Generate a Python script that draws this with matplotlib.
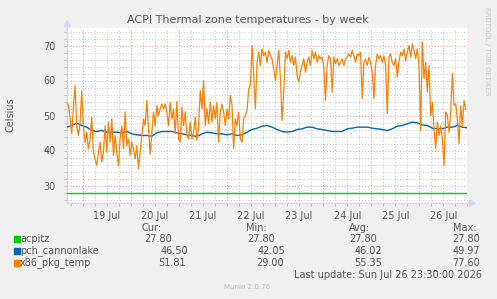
import matplotlib
matplotlib.use("Agg")
import matplotlib.pyplot as plt
import matplotlib.dates as mdates
from matplotlib.ticker import FuncFormatter, MultipleLocator, NullFormatter
from matplotlib.patches import Rectangle
from datetime import datetime, timedelta

# ---------------- data ----------------
start = datetime(2026, 7, 18, 16, 0)
end = datetime(2026, 7, 27, 0, 0)

pkg_step_min = 50     # sample spacing for x86_pkg_temp
pch_step_min = 150    # sample spacing for pch_cannonlake

acpitz = 27.8

pch_cannonlake = [
    46.67, 47.14, 47.81, 47.14, 46.67, 45.71, 45.43, 45.71, 45.24, 45.24,
    45.24, 45.05, 45.43, 44.76, 44.48, 44.29, 44.29, 44.10, 45.05, 45.43,
    45.43, 45.43, 45.05, 44.76, 44.48, 44.29, 44.00, 44.76, 45.24, 45.05,
    44.76, 44.76, 44.48, 44.76, 44.29, 44.48, 45.24, 46.00, 46.38, 46.95,
    47.14, 46.67, 46.00, 45.43, 45.24, 45.43, 46.00, 46.19, 46.67, 46.67,
    46.19, 46.00, 45.71, 45.43, 45.43, 45.43, 46.19, 46.38, 46.67, 46.67,
    46.67, 46.38, 46.19, 46.00, 45.71, 46.19, 46.95, 47.14, 47.62, 48.10,
    47.90, 47.33, 47.14, 46.38, 46.19, 46.19, 46.67, 46.67, 47.14, 46.67,
    46.50,
]

x86_pkg_temp = [
    # 18 - 20 Jul
    53.8, 53.0, 49.5, 44.8, 52.0, 58.6, 47.0, 44.3, 48.0, 57.1,
    47.1, 42.4, 45.2, 40.5, 43.3, 49.5, 39.5, 37.6, 35.7, 39.5,
    42.4, 36.7, 39.5, 47.1, 39.5, 48.1, 42.4, 49.0, 38.6, 44.3,
    39.5, 35.7, 43.3, 47.1, 40.5, 51.0, 41.4, 43.3, 38.6, 42.4,
    40.5, 37.6, 41.4, 34.8, 39.5, 44.3, 49.0, 47.1, 54.3, 46.2,
    39.0, 45.2, 51.0, 47.1, 52.9, 50.0, 51.9, 53.3, 51.9,
    # 20 - 22 Jul
    53.3, 51.0, 47.1, 53.8, 49.0, 51.9, 44.8, 54.0, 43.3, 42.4,
    52.4, 47.1, 51.0, 44.3, 43.3, 48.1, 43.3, 45.2, 49.5, 42.9,
    47.1, 57.1, 51.9, 60.0, 47.1, 51.9, 47.6, 53.8, 48.1, 52.9,
    49.0, 53.8, 42.4, 51.0, 53.3, 51.0, 47.1, 51.9, 49.0, 55.7,
    52.9, 40.5, 49.0, 47.1, 51.0, 43.3, 42.4, 49.0, 50.0, 51.4,
    57.6, 58.6, 70.0, 61.4, 51.9, 65.2, 68.1, 64.3, 69.0, 67.1,
    # 22 - 24 Jul
    68.1, 65.2, 68.6, 67.1, 66.2, 63.3, 60.0, 64.3, 68.6, 60.5,
    48.6, 56.7, 68.1, 66.2, 68.6, 65.2, 67.1, 64.3, 66.7, 61.4,
    59.5, 62.4, 64.3, 66.2, 62.4, 65.2, 66.7, 64.3, 68.6, 66.2,
    68.1, 65.2, 67.1, 66.2, 66.7, 63.8, 54.3, 64.3, 67.1, 66.2,
    56.7, 66.7, 64.8, 66.2, 64.3, 65.2, 66.2, 64.3, 66.2, 66.7,
    67.6, 66.7, 68.6, 67.1, 65.2, 67.6, 67.1, 68.1, 54.8, 65.2,
    # 24 - 27 Jul
    66.2, 64.3, 66.7, 65.2, 62.4, 54.8, 64.3, 67.6, 66.2, 67.1,
    65.2, 67.1, 64.3, 50.5, 66.7, 67.6, 65.2, 64.3, 66.2, 61.0,
    65.2, 68.1, 67.1, 69.0, 65.7, 68.1, 70.0, 66.7, 70.5, 68.6,
    66.2, 69.0, 64.3, 45.7, 71.0, 60.5, 65.2, 56.7, 64.3, 50.0,
    53.8, 46.2, 40.5, 48.1, 44.3, 47.1, 43.3, 35.7, 51.0, 50.0,
    45.2, 51.0, 62.0, 52.9, 53.3, 49.0, 41.9, 52.9, 47.1, 54.3,
    51.8,
]

names = ["acpitz", "pch_cannonlake", "x86_pkg_temp"]
colors = ["#00CC00", "#0066B3", "#FF8000"]
cur_vals = ["27.80", "46.50", "51.81"]
min_vals = ["27.80", "42.05", "29.00"]
avg_vals = ["27.80", "46.02", "55.35"]
max_vals = ["27.80", "49.97", "77.60"]

title = "ACPI Thermal zone temperatures - by week"
last_update = "Last update: Sun Jul 26 23:30:00 2026"

# ---------------- figure ----------------
W, H = 497, 299
TXT = "#555555"
plt.rcParams['font.family'] = ['DejaVu Sans']

fig = plt.figure(figsize=(W / 100, H / 100), dpi=100, facecolor="#F0F0F0")

# plot area in pixels: left 66.7, right 467.4, top 28, bottom 203
ax = fig.add_axes([66.7 / W, 1 - 203 / H, 400.7 / W, 175 / H])
ax.set_facecolor("white")

pkg_t = [start + timedelta(minutes=pkg_step_min * i) for i in range(len(x86_pkg_temp))]
pch_t = [start + timedelta(minutes=pch_step_min * i) for i in range(len(pch_cannonlake))]

ax.plot([start, end], [acpitz, acpitz], color=colors[0], lw=1.0, zorder=3)
ax.plot(pch_t, pch_cannonlake, color=colors[1], lw=1.0, zorder=3)
ax.plot(pkg_t, x86_pkg_temp, color=colors[2], lw=0.9, zorder=4)

ax.set_xlim(start, end)
ax.set_ylim(25, 75)

# y axis: labels every 10, dotted grid every 2
ax.yaxis.set_major_locator(MultipleLocator(10))
ax.yaxis.set_minor_locator(MultipleLocator(2))

# x axis: red line at midnight, gray every 6h, day label at noon
ax.xaxis.set_major_locator(mdates.DayLocator())
ax.xaxis.set_major_formatter(NullFormatter())
ax.xaxis.set_minor_locator(mdates.HourLocator(byhour=[6, 12, 18]))


def day_label(x, pos):
    d = mdates.num2date(x)
    return d.strftime("%d %b") if d.hour == 12 else ""


ax.xaxis.set_minor_formatter(FuncFormatter(day_label))

dots = (0, (1, 2))
ax.grid(which="major", color="#E49A9A", linestyle=dots, linewidth=0.7, zorder=1)
ax.grid(which="minor", color="#C4C4C4", linestyle=dots, linewidth=0.7, zorder=1)
ax.set_axisbelow(True)

ax.tick_params(which="both", length=2, width=0.6, color="#B0B0B0",
               labelsize=7, labelcolor=TXT)
ax.tick_params(axis="y", which="major", pad=6)
ax.tick_params(axis="x", which="minor", pad=4)

for s in ["top", "right"]:
    ax.spines[s].set_visible(False)
for s in ["left", "bottom"]:
    ax.spines[s].set_color("#CFD6F8")
    ax.spines[s].set_linewidth(1.0)

# little arrows at the axis ends
ax.plot([0, 0], [1, 1.03], color="#CFD6F8", lw=1, transform=ax.transAxes, clip_on=False)
ax.plot([0], [1.03], marker="^", ms=4, color="#CFD6F8", transform=ax.transAxes, clip_on=False)
ax.plot([1, 1.012], [0, 0], color="#CFD6F8", lw=1, transform=ax.transAxes, clip_on=False)
ax.plot([1.012], [0], marker=">", ms=4, color="#CFD6F8", transform=ax.transAxes, clip_on=False)


def fx(px):
    return px / W


def fy(py):
    return 1 - py / H


# titles and side texts
fig.text(fx(248), fy(20), title, ha="center", va="center", fontsize=8, color=TXT)
fig.text(fx(11), fy(115), "Celsius", rotation=90, ha="center", va="center",
         fontsize=7, color=TXT)
fig.text(fx(487), fy(51), "RRDTOOL / TOBI OETIKER", rotation=270, ha="center",
         va="center", fontsize=5, color="#C8C8C8")

# legend table
row_y = [239, 251, 263]
fig.text(fx(162), fy(228), "Cur:", ha="right", va="center", fontsize=7, color=TXT)
fig.text(fx(267), fy(228), "Min:", ha="right", va="center", fontsize=7, color=TXT)
fig.text(fx(370), fy(228), "Avg:", ha="right", va="center", fontsize=7, color=TXT)
fig.text(fx(477), fy(228), "Max:", ha="right", va="center", fontsize=7, color=TXT)

cur_x = [172, 188, 186]
min_x = [275, 285, 284]
avg_x = [377, 382, 382]
max_x = [480, 480, 480]

for i, name in enumerate(names):
    y = row_y[i]
    fig.patches.append(Rectangle((fx(14), fy(y + 3)), 6 / W, 6 / H,
                                 transform=fig.transFigure, color=colors[i]))
    fig.text(fx(20), fy(y), name, ha="left", va="center", fontsize=7, color=TXT)
    fig.text(fx(cur_x[i]), fy(y), cur_vals[i], ha="right", va="center", fontsize=7, color=TXT)
    fig.text(fx(min_x[i]), fy(y), min_vals[i], ha="right", va="center", fontsize=7, color=TXT)
    fig.text(fx(avg_x[i]), fy(y), avg_vals[i], ha="right", va="center", fontsize=7, color=TXT)
    fig.text(fx(max_x[i]), fy(y), max_vals[i], ha="right", va="center", fontsize=7, color=TXT)

fig.text(fx(482), fy(275), last_update, ha="right", va="center", fontsize=7, color=TXT)
fig.text(fx(247), fy(287), "Munin 2.0.76", ha="center", va="center", fontsize=5,
         color="#BBBBBB")

fig.savefig("out.png", dpi=100, facecolor=fig.get_facecolor())
